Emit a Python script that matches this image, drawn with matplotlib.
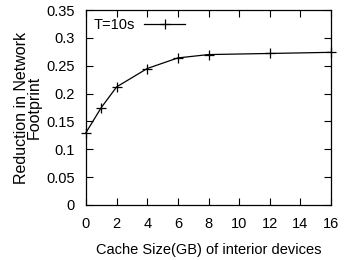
import numpy as np
from matplotlib import pyplot as plt

plt.rcParams['font.family'] = ['Liberation Sans', 'DejaVu Sans']

# data
cache_gb = [0, 1, 2, 4, 6, 8, 12, 16]
reduction = [0.13, 0.175, 0.212, 0.245, 0.264, 0.270, 0.272, 0.274]

fs = 10.5

fig = plt.figure(figsize=(3.44, 2.6), dpi=100)
ax = fig.add_axes([86 / 344, 1 - 205 / 260, (331 - 86) / 344, (205 - 10) / 260])

ax.plot(cache_gb, reduction, color='black', lw=0.9, marker='+', ms=7, mew=0.9,
        label='T=10s', clip_on=False)

ax.set_xlim(0, 16)
ax.set_ylim(0, 0.35)
ax.set_xticks(np.arange(0, 17, 2))
ax.set_yticks([0, 0.05, 0.1, 0.15, 0.2, 0.25, 0.3, 0.35])
ax.set_yticklabels(['0', '0.05', '0.1', '0.15', '0.2', '0.25', '0.3', '0.35'])
ax.tick_params(direction='in', top=True, right=True, length=5, width=0.8,
               labelsize=fs)
ax.tick_params(axis='x', pad=9)
ax.tick_params(axis='y', pad=8)
for s in ax.spines.values():
    s.set_linewidth(0.9)

ax.set_xlabel('Cache Size(GB) of interior devices', fontsize=fs, labelpad=8)
ax.set_ylabel('Reduction in Network\nFootprint', fontsize=11.5, labelpad=3,
              linespacing=0.8)

ax.legend(loc='upper left', frameon=False, fontsize=fs, handlelength=2.8,
          markerfirst=False, borderaxespad=0.15, handletextpad=0.6)

fig.savefig('out.png', dpi=100)
